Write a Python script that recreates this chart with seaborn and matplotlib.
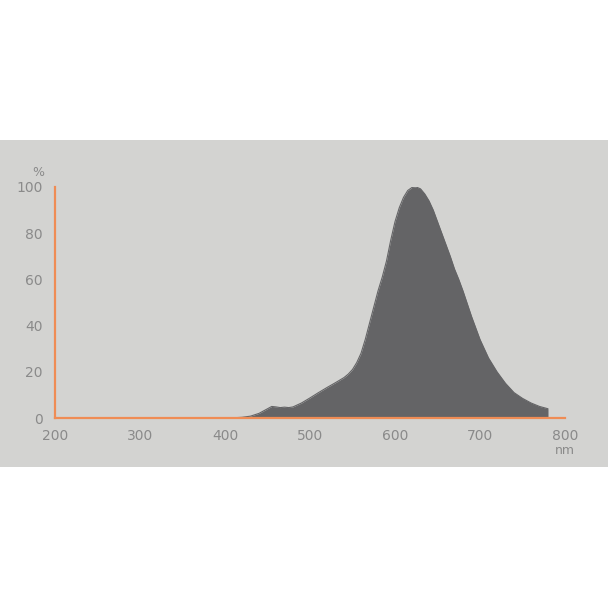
import matplotlib
matplotlib.use('Agg')
import matplotlib.pyplot as plt
import pandas as pd
import seaborn as sns
from matplotlib.patches import Rectangle

# spectrum
wavelength = [400, 410, 420, 430, 440, 450, 455, 460, 465, 470, 475, 480, 490, 500,
              510, 520, 530, 540, 545, 550, 555, 560, 565, 570, 575, 580, 585, 590,
              595, 600, 605, 610, 615, 620, 625, 630, 635, 640, 645, 650, 655, 660,
              665, 670, 675, 680, 685, 690, 695, 700, 705, 710, 720, 730, 740, 750,
              760, 770, 780]
intensity = [0, 0.1, 0.3, 0.8, 2.0, 4.0, 5.0, 4.8, 4.5, 4.7, 4.5, 4.8, 6.5, 8.7,
             11, 13.2, 15.3, 17.5, 19, 21, 24, 28, 34, 41, 48, 55, 61, 68,
             77, 85, 91, 95.5, 98.5, 99.8, 100, 99.2, 97, 94, 90, 85, 80, 75,
             70, 64.5, 60, 55, 49.5, 44, 39, 34, 30, 26, 20, 15, 11, 8.5,
             6.5, 5, 4]
x_ticks = [200, 300, 400, 500, 600, 700, 800]
y_ticks = [0, 20, 40, 60, 80, 100]

df = pd.DataFrame({'nm': wavelength, 'pct': intensity})

sns.set_style('white')
plt.rcParams['font.family'] = ['DejaVu Sans']

panel = '#d3d3d1'
fill = '#646466'
orange = '#ef8c55'
grey_txt = '#8a8a8a'

fig = plt.figure(figsize=(6.08, 6.08), dpi=100)
fig.patch.set_facecolor('white')
fig.patches.append(Rectangle((0, 1 - 467 / 608), 1, 327 / 608, transform=fig.transFigure,
                             facecolor=panel, edgecolor='none', zorder=-10))

ax = fig.add_axes([55 / 608, 190 / 608, 510 / 608, 231 / 608])
ax.set_facecolor('none')
ax.set_zorder(1)
sns.lineplot(data=df, x='nm', y='pct', ax=ax, color=fill, linewidth=0.8)
ax.fill_between(df['nm'], df['pct'], color=fill, linewidth=0)

ax.set_xlim(200, 800)
ax.set_ylim(0, 100)
ax.set_xticks(x_ticks)
ax.set_yticks(y_ticks)
ax.set_xlabel('')
ax.set_ylabel('')
for s in ['top', 'right']:
    ax.spines[s].set_visible(False)
for s in ['left', 'bottom']:
    ax.spines[s].set_color(orange)
    ax.spines[s].set_linewidth(1.6)
ax.tick_params(axis='x', direction='in', length=3, width=1, color='#a08070',
               labelcolor=grey_txt, labelsize=10, pad=8)
ax.tick_params(axis='y', length=0, labelcolor=grey_txt, labelsize=10, pad=9)

ax.text(-0.022, 1.035, '%', transform=ax.transAxes, ha='right', va='bottom',
        color=grey_txt, fontsize=9)
ax.text(1.0, -0.112, 'nm', transform=ax.transAxes, ha='center', va='top',
        color=grey_txt, fontsize=9)

fig.savefig('out.png', dpi=100, facecolor='white')
